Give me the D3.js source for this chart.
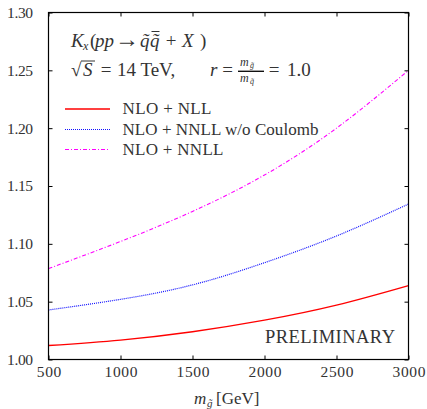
<!DOCTYPE html>
<html><head><meta charset="utf-8">
<script src="https://cdn.jsdelivr.net/npm/d3@7/dist/d3.min.js"></script>
<style>body{margin:0;background:#fff;}</style></head>
<body><svg id="c" width="427" height="409"></svg>
<script>
const masses = [500, 1000, 1500, 2000, 2500, 3000];
const nloNll = [1.0121, 1.0168, 1.0240, 1.0340, 1.0470, 1.0639];
const nloNnllNoCoul = [1.0428, 1.0520, 1.0645, 1.0837, 1.1068, 1.1344];
const nloNnll = [1.0786, 1.1020, 1.1280, 1.1595, 1.2000, 1.2500];
const xTicks = [500, 1000, 1500, 2000, 2500, 3000];
const yTicks = [1.00, 1.05, 1.10, 1.15, 1.20, 1.25, 1.30];
const seriesNames = ["NLO + NLL", "NLO + NNLL w/o Coulomb", "NLO + NNLL"];

const FF = "Liberation Serif";
const TC = "#333";
const svg = d3.select("#c");
const L = 48.5, R = 408.5, T = 12.5, B = 359.5;
const x = d3.scaleLinear().domain([500, 3000]).range([L, R]);
const y = d3.scaleLinear().domain([1.0, 1.3]).range([B, T]);

function txt(xp, yp, size, opts) {
  opts = opts || {};
  const t = svg.append("text").attr("x", xp).attr("y", yp).attr("font-family", FF)
    .attr("font-size", size).attr("fill", TC);
  if (opts.anchor) t.attr("text-anchor", opts.anchor);
  if (opts.italic) t.attr("font-style", "italic");
  if (opts.len) t.attr("textLength", opts.len).attr("lengthAdjust", "spacing");
  if (opts.text) t.text(opts.text);
  return t;
}

const series = [
  {name: seriesNames[0], vals: nloNll, color: "#ff0000", dash: null, w: 1.3},
  {name: seriesNames[1], vals: nloNnllNoCoul, color: "#1010ff", dash: "1,1", w: 1.2},
  {name: seriesNames[2], vals: nloNnll, color: "#ff00ff", dash: "4,2,1,2", w: 1.1}
];

const line = d3.line().x((d,i)=>x(masses[i])).y(d=>y(d)).curve(d3.curveNatural);
series.forEach(s => {
  svg.append("path").attr("d", line(s.vals)).attr("fill","none")
    .attr("stroke", s.color).attr("stroke-width", s.w)
    .attr("stroke-dasharray", s.dash);
});

svg.append("rect").attr("x",L).attr("y",T).attr("width",R-L).attr("height",B-T)
  .attr("fill","none").attr("stroke","#000").attr("stroke-width",1.2);

const gx = svg.append("g").attr("transform",`translate(0,${B})`)
  .call(d3.axisBottom(x).tickValues(xTicks).tickSize(-4).tickPadding(6.5).tickFormat(d3.format("d")));
const gxt = svg.append("g").attr("transform",`translate(0,${T})`)
  .call(d3.axisTop(x).tickValues(xTicks).tickSize(-4).tickFormat(""));
const gy = svg.append("g").attr("transform",`translate(${L},0)`)
  .call(d3.axisLeft(y).tickValues(yTicks).tickSize(-4).tickPadding(15.5).tickFormat(d3.format(".2f")));
const gyr = svg.append("g").attr("transform",`translate(${R},0)`)
  .call(d3.axisRight(y).tickValues(yTicks).tickSize(-4).tickFormat(""));
[gx,gxt,gy,gyr].forEach(g=>{
  g.attr("font-family", FF).attr("font-size", 15.5);
  g.select(".domain").remove();
  g.selectAll("line").attr("stroke","#000");
  g.selectAll("text").attr("font-family",FF).attr("font-size",15.5).attr("fill",TC);
});
gx.selectAll("text").attr("dy","0.71em").attr("textLength", d => String(d).length * 8.2).attr("lengthAdjust","spacing");
gy.selectAll("text").attr("textLength", 26).attr("lengthAdjust","spacing");

// x label
txt(194, 404, 17, {italic:true, text:"m"});
txt(207, 407, 11, {italic:true, text:"g̃"});
txt(216, 404, 17, {text:"[GeV]"});

// title line 1
const yT1 = 46.5;
txt(71, yT1, 19, {italic:true, text:"K"});
txt(83, yT1+3, 12, {italic:true, text:"x"});
txt(90, yT1, 19, {text:"("});
txt(95, yT1, 19, {italic:true, text:"pp"});
txt(127, yT1, 24, {text:"→", anchor:"middle"});
txt(140, yT1, 19, {italic:true, text:"q̃"});
txt(150, yT1, 19, {italic:true, text:"q̃"});
svg.append("line").attr("x1",151.5).attr("x2",159.5).attr("y1",31.5).attr("y2",31.5).attr("stroke",TC).attr("stroke-width",1);
txt(171, yT1, 19, {text:"+", anchor:"middle"});
txt(182, yT1, 19, {italic:true, text:"X"});
txt(200, yT1, 19, {text:")"});

// title line 2
const yT2 = 75.5;
txt(71, yT2, 19, {text:"√"});
txt(83, yT2, 19, {italic:true, text:"S"});
svg.append("line").attr("x1",81).attr("x2",95).attr("y1",61).attr("y2",61).attr("stroke",TC).attr("stroke-width",1);
txt(106, yT2, 19, {text:"=", anchor:"middle"});
txt(117, yT2, 19, {text:"14 TeV,"});
txt(210, yT2, 19, {italic:true, text:"r"});
txt(227.5, yT2, 19, {text:"=", anchor:"middle"});
txt(240, 66, 12, {italic:true, text:"m"});
txt(250, 68, 8, {italic:true, text:"g̃"});
svg.append("line").attr("x1",238).attr("x2",264).attr("y1",71.3).attr("y2",71.3).attr("stroke","#111").attr("stroke-width",1.4);
txt(240, 82, 12, {italic:true, text:"m"});
txt(250, 84, 8, {italic:true, text:"q̃"});
txt(274, yT2, 19, {text:"=", anchor:"middle"});
txt(287, yT2, 19, {text:"1.0"});

// legend
const legY = [109, 129.5, 149.5];
const legLen = [89, 196, 101];
series.forEach((s,i)=>{
  svg.append("line").attr("x1",65).attr("x2",110).attr("y1",legY[i]).attr("y2",legY[i])
    .attr("stroke",s.color).attr("stroke-width",s.w).attr("stroke-dasharray",s.dash);
  txt(122.5, legY[i]+5, 17, {text:s.name, len:legLen[i]});
});

txt(265, 343, 18.5, {text:"PRELIMINARY", len:130});
</script></body></html>
